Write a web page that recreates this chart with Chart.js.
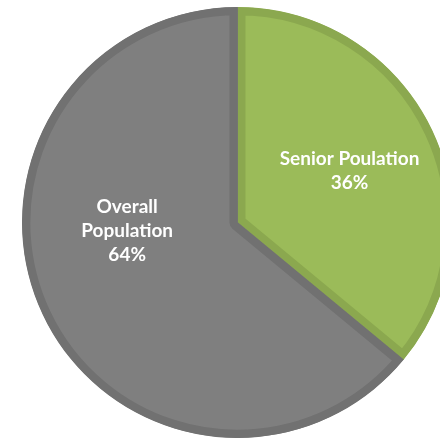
<!DOCTYPE html>
<html>
<head>
<meta charset="utf-8">
<script src="https://cdn.jsdelivr.net/npm/chart.js@4/dist/chart.umd.min.js"></script>
<style>
  html, body { margin: 0; padding: 0; background: #fff; overflow: hidden; width: 440px; height: 440px; }
  #pie { position: absolute; left: 22px; top: 7px; }
</style>
</head>
<body>
<canvas id="pie" width="431" height="431"></canvas>
<script>
// population shares (percent)
var categories = ['Senior Poulation', 'Overall Population'];
var shares = [36, 64];
// how each label is broken into lines inside its slice
var labelLines = [['Senior Poulation'], ['Overall', 'Population']];

var fills   = ['#9bbb59', '#7f7f7f'];
var borders = ['#8ba84f', '#717171'];

// writes the category name and percentage inside each slice
var sliceLabels = {
  id: 'sliceLabels',
  afterDatasetsDraw: function(chart, args, opts) {
    var ctx = chart.ctx;
    var meta = chart.getDatasetMeta(0);
    var total = shares.reduce(function(a, b) { return a + b; }, 0);
    ctx.save();
    ctx.fillStyle = '#ffffff';
    ctx.font = opts.font;
    ctx.textAlign = 'center';
    ctx.textBaseline = 'alphabetic';
    meta.data.forEach(function(arc, i) {
      var p = arc.getProps(['x', 'y', 'outerRadius']);
      var cx = p.x + opts.anchors[i][0] * p.outerRadius;
      var cy = p.y + opts.anchors[i][1] * p.outerRadius;
      var lines = labelLines[i].concat([Math.round(shares[i] / total * 100) + '%']);
      var top = cy - (lines.length - 1) * opts.lineHeight / 2 + 7;
      lines.forEach(function(t, k) {
        ctx.fillText(t, cx, top + k * opts.lineHeight);
      });
    });
    ctx.restore();
  }
};

new Chart(document.getElementById('pie'), {
  type: 'pie',
  data: {
    labels: categories,
    datasets: [{
      data: shares,
      backgroundColor: fills,
      borderColor: borders,
      borderWidth: 8,
      borderAlign: 'inner',
      offset: 0,
      hoverOffset: 0
    }]
  },
  options: {
    responsive: false,
    maintainAspectRatio: false,
    animation: false,
    events: [],
    layout: { padding: 0 },
    plugins: {
      legend: { display: false },
      tooltip: { enabled: false },
      sliceLabels: {
        font: 'bold 19px Lato, "Open Sans", sans-serif',
        lineHeight: 24,
        anchors: [[0.52, -0.245], [-0.512, 0.035]]
      }
    }
  },
  plugins: [sliceLabels]
});
</script>
</body>
</html>
